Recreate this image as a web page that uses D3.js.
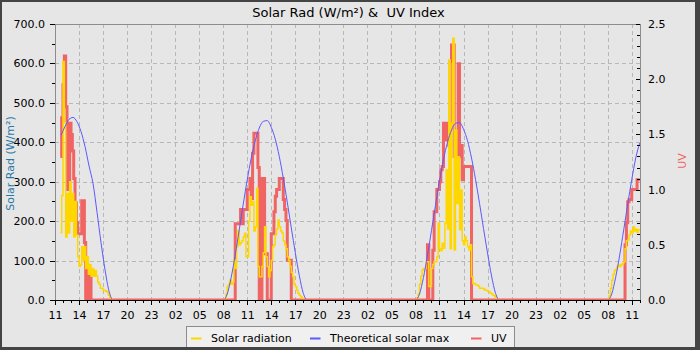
<!DOCTYPE html>
<html>
<head>
<meta charset="utf-8">
<script src="https://cdn.jsdelivr.net/npm/d3@7"></script>
<style>
  html, body { margin: 0; padding: 0; background: #e6e6e6; }
  svg { display: block; }
  text { font-family: "DejaVu Sans", sans-serif; }
</style>
</head>
<body>
<svg id="chart" width="700" height="350"></svg>
<script>
// ---- axis ticks -------------------------------------------------------
const xTickLabels = ["11","14","17","20","23","02","05","08","11","14","17","20","23",
                     "02","05","08","11","14","17","20","23","02","05","08","11"];
const radTicks = [0, 100, 200, 300, 400, 500, 600, 700];
const uvTicks = [0, 0.5, 1.0, 1.5, 2.0, 2.5];

// ---- solar radiation (W/m²), 10-minute readings ------------------------
const radiationDay1 = [171, 265, 605, 450, 160, 270, 170, 300, 200, 270, 160, 250, 165, 110,
  85, 90, 135, 100, 135, 80, 110, 65, 90, 60, 80, 60, 75, 60, 45, 40, 30, 30, 25, 25, 22, 20,
  12, 6, 2, 0];
const radiationDay2 = [0, 3, 15, 34, 40, 50, 40, 45, 101, 80, 135, 177, 140, 145, 150, 160,
  169, 110, 110, 200, 262, 240, 250, 175, 186, 283, 85, 59, 59, 85, 120, 186, 110, 85, 59,
  75, 100, 135, 140, 165, 180, 203, 186, 175, 170, 150, 140, 130, 110, 100, 85, 70, 59, 40,
  34, 25, 17, 12, 8, 4, 2, 0];
const radiationDay3 = [0, 5, 15, 40, 60, 76, 80, 80, 97, 97, 34, 34, 80, 90, 97, 97, 110,
  195, 130, 125, 144, 131, 195, 330, 180, 609, 130, 448, 664, 127, 431, 245, 363, 178, 279,
  150, 140, 160, 150, 135, 127, 140, 59, 42, 42, 38, 38, 35, 30, 30, 30, 28, 25, 25, 22, 20,
  18, 15, 12, 10, 6, 3, 0];
const radiationDay4 = [0, 10, 30, 50, 65, 75, 78, 85, 88, 85, 90, 92, 97, 130, 150, 152, 165,
  175, 170, 186, 175, 180, 172, 178, 180];

// ---- theoretical solar max (W/m²), 30-minute readings -----------------
const solarMaxDay1 = [418, 440, 458, 463, 452, 427, 389, 340, 295, 222, 145, 76, 22, 0];
const solarMaxDay2 = [0, 15, 58, 114, 178, 243, 305, 360, 404, 436, 453, 455, 438, 408, 364,
  309, 248, 183, 120, 62, 17, 0];
const solarMaxDay3 = [0, 15, 57, 113, 176, 240, 302, 356, 400, 431, 448, 450, 433, 404, 360,
  306, 245, 181, 119, 61, 17, 0];
const solarMaxDay4 = [0, 15, 58, 114, 178, 243, 305, 360, 398];

// ---- UV index, 10-minute readings -------------------------------------
const uvDay1 = [1.30, 1.65, 1.95, 2.21, 1.75, 1.00, 1.00, 1.60, 1.50, 1.35, 1.10, 0.88, 0.70,
  0.60, 0.60, 0.60, 0.90, 0.90, 0.52, 0.00, 0.27, 0.00, 0.27, 0.00, 0.00];
const uvDay2 = [0, 0, 0, 0, 0, 0, 0, 0, 0, 0.69, 0.69, 0.69, 0.69, 0.82, 0.69, 0.82, 0.82,
  0.82, 1.00, 1.00, 1.10, 0.92, 1.33, 1.51, 1.51, 1.51, 1.20, 0, 0, 1.10, 1.10, 0.42, 0.42,
  0, 0, 0, 0.60, 0.60, 0.80, 0.94, 1.00, 1.00, 1.10, 1.10, 1.10, 0.91, 0.82, 0.72, 0.36,
  0.36, 0.36, 0];
const uvDay3 = [0, 0, 0, 0, 0, 0, 0, 0, 0, 0.50, 0, 0, 0, 0.45, 0.80, 0.80, 1.00, 1.00, 1.07,
  1.18, 1.21, 1.60, 1.60, 1.45, 1.60, 1.40, 2.16, 2.31, 2.31, 1.30, 1.35, 1.30, 2.14, 1.30,
  1.40, 1.09, 1.21, 1.21, 1.21, 1.21, 1.21, 1.21, 0];
const uvDay4 = [0, 0, 0, 0, 0, 0, 0, 0, 0, 0, 0, 0, 0, 0.50, 0.70, 0.89, 0.91, 0.91, 1.00,
  1.00, 1.00, 1.00, 1.09, 1.09, 1.09];

// hours counted from 11:00 on the first day
function toHour(day, hhmm) {
  const [h, m] = hhmm.split(":").map(Number);
  return (day - 1) * 24 + h + m / 60 - 11;
}
function series(segments) {
  const pts = [];
  segments.forEach(([day, start, stepMin, values]) => {
    const t0 = toHour(day, start);
    values.forEach((v, i) => pts.push({ t: t0 + i * stepMin / 60, v }));
  });
  return pts;
}

const radiation = series([[1, "11:40", 10, radiationDay1], [2, "08:00", 10, radiationDay2],
                          [3, "08:00", 10, radiationDay3], [4, "08:00", 10, radiationDay4]]);
const solarMax = series([[1, "11:45", 30, solarMaxDay1], [2, "08:00", 30, solarMaxDay2],
                         [3, "08:00", 30, solarMaxDay3], [4, "08:00", 30, solarMaxDay4]]);
const uv = series([[1, "11:40", 10, uvDay1], [2, "08:00", 10, uvDay2],
                   [3, "08:00", 10, uvDay3], [4, "08:00", 10, uvDay4]]);

// ---- layout -------------------------------------------------------------
const plot = { left: 55, right: 640, top: 24, bottom: 300 };
const tEnd = toHour(4, "12:02");

const x = d3.scaleLinear().domain([0, tEnd]).range([plot.left, plot.right]);
const yRad = d3.scaleLinear().domain([0, 700]).range([plot.bottom, plot.top]);
const yUV = d3.scaleLinear().domain([0, 2.5]).range([plot.bottom, plot.top]);

const svg = d3.select("#chart");
const FONT = "DejaVu Sans, sans-serif";

svg.append("rect").attr("width", 700).attr("height", 350).attr("fill", "#e6e6e6");

// grid
const grid = svg.append("g").attr("stroke", "#b8b8b8").attr("stroke-dasharray", "4,3")
  .attr("stroke-width", 1).attr("shape-rendering", "crispEdges");
const xMajor = d3.range(0, tEnd, 3);
grid.selectAll("line.v").data(xMajor.slice(1)).join("line").attr("class", "v")
  .attr("x1", d => Math.round(x(d)) + 0.5).attr("x2", d => Math.round(x(d)) + 0.5)
  .attr("y1", plot.top).attr("y2", plot.bottom);
grid.selectAll("line.h").data(radTicks.slice(1, -1)).join("line").attr("class", "h")
  .attr("x1", plot.left).attr("x2", plot.right)
  .attr("y1", d => Math.round(yRad(d)) + 0.5).attr("y2", d => Math.round(yRad(d)) + 0.5);

// data lines: UV underneath, radiation curves on top; the radiation curves
// stop just above the baseline so the UV zero line stays visible at night
const defs = svg.append("defs");
defs.append("clipPath").attr("id", "plotClip").append("rect")
  .attr("x", plot.left).attr("y", plot.top - 5)
  .attr("width", plot.right - plot.left).attr("height", plot.bottom - plot.top + 5);
defs.append("clipPath").attr("id", "radClip").append("rect")
  .attr("x", plot.left).attr("y", plot.top - 5)
  .attr("width", plot.right - plot.left).attr("height", plot.bottom - plot.top + 4);

svg.append("path").datum(uv).attr("clip-path", "url(#plotClip)").attr("fill", "none")
  .attr("d", d3.line().curve(d3.curveStepAfter).x(d => x(d.t)).y(d => yUV(d.v)))
  .attr("stroke", "#f06464").attr("stroke-width", 3);
svg.append("path").datum(radiation).attr("clip-path", "url(#radClip)").attr("fill", "none")
  .attr("d", d3.line().curve(d3.curveStepAfter).x(d => x(d.t)).y(d => yRad(d.v)))
  .attr("stroke", "#ffd700").attr("stroke-width", 1.5);
svg.append("path").datum(solarMax).attr("clip-path", "url(#radClip)").attr("fill", "none")
  .attr("d", d3.line().curve(d3.curveMonotoneX).x(d => x(d.t)).y(d => yRad(d.v)))
  .attr("stroke", "#5a5aff").attr("stroke-width", 1);

// frame
svg.append("path")
  .attr("d", `M${plot.left},${plot.top + 0.5}H${plot.right + 0.5}V${plot.bottom}`)
  .attr("fill", "none").attr("stroke", "#8c8c8c").attr("shape-rendering", "crispEdges");

function styleAxis(g, fontSize) {
  g.attr("font-family", FONT).attr("font-size", fontSize);
  g.select(".domain").attr("stroke", "#8c8c8c");
  g.selectAll(".tick line").attr("stroke", "#000");
  g.selectAll(".tick text").attr("fill", "#000");
  g.attr("shape-rendering", "crispEdges");
}

// left axis
svg.append("g").attr("transform", `translate(${plot.left},0)`)
  .call(d3.axisLeft(yRad).tickValues(d3.range(50, 700, 100)).tickFormat("").tickSize(3).tickSizeOuter(0))
  .call(g => { g.select(".domain").remove(); g.selectAll("line").attr("stroke", "#000"); })
  .attr("shape-rendering", "crispEdges");
svg.append("g").attr("transform", `translate(${plot.left},0)`)
  .call(d3.axisLeft(yRad).tickValues(radTicks).tickFormat(d3.format(".1f")).tickSize(5).tickSizeOuter(0).tickPadding(5))
  .call(g => styleAxis(g, 11));

// right axis
svg.append("g").attr("transform", `translate(${plot.right},0)`)
  .call(d3.axisRight(yUV).tickValues(d3.range(1, 25).filter(i => i % 5).map(i => i / 10))
    .tickFormat("").tickSizeInner(-3).tickSizeOuter(0))
  .call(g => { g.select(".domain").remove(); g.selectAll("line").attr("stroke", "#000"); })
  .attr("shape-rendering", "crispEdges");
svg.append("g").attr("transform", `translate(${plot.right},0)`)
  .call(d3.axisRight(yUV).tickValues(uvTicks).tickFormat(d3.format(".1f"))
    .tickSizeInner(-4).tickSizeOuter(0).tickPadding(8))
  .call(g => styleAxis(g, 11));

// bottom axis
svg.append("g").attr("transform", `translate(0,${plot.bottom})`)
  .call(d3.axisBottom(x).tickValues(d3.range(0, tEnd, 1)).tickFormat("").tickSize(3).tickSizeOuter(0))
  .call(g => { g.select(".domain").remove(); g.selectAll("line").attr("stroke", "#000"); })
  .attr("shape-rendering", "crispEdges");
svg.append("g").attr("transform", `translate(0,${plot.bottom})`)
  .call(d3.axisBottom(x).tickValues(xMajor).tickFormat((d, i) => xTickLabels[i])
    .tickSize(5).tickSizeOuter(0).tickPadding(6))
  .call(g => styleAxis(g, 11))
  .call(g => g.select(".domain").attr("stroke", "#000"));

// titles
svg.append("text").attr("x", 348.5).attr("y", 16.5).attr("text-anchor", "middle")
  .attr("font-size", 13).attr("fill", "#000")
  .style("white-space", "pre").text("Solar Rad (W/m²) &  UV Index");
svg.append("text").attr("transform", "translate(13.5,163.5) rotate(-90)")
  .attr("text-anchor", "middle").attr("font-size", 11).attr("fill", "#2878a8")
  .text("Solar Rad (W/m²)");
svg.append("text").attr("transform", "translate(686,161) rotate(-90)")
  .attr("text-anchor", "middle").attr("font-size", 11).attr("fill", "#f06464")
  .text("UV");

// legend
const legendItems = [
  { label: "Solar radiation", color: "#ffd700", x: 191 },
  { label: "Theoretical solar max", color: "#5a5aff", x: 310 },
  { label: "UV", color: "#f06464", x: 471 }
];
const legend = svg.append("g");
legend.append("rect").attr("x", 186.5).attr("y", 326.5).attr("width", 328).attr("height", 24)
  .attr("fill", "#f0f0f0").attr("stroke", "#8c8c8c").attr("shape-rendering", "crispEdges");
const li = legend.selectAll("g.item").data(legendItems).join("g").attr("class", "item");
li.append("line").attr("x1", d => d.x).attr("x2", d => d.x + 10.5)
  .attr("y1", 338.5).attr("y2", 338.5).attr("stroke", d => d.color).attr("stroke-width", 2);
li.append("text").attr("x", d => d.x + 20).attr("y", 341.5).attr("font-size", 11)
  .attr("fill", "#000").text(d => d.label);

// outer border
const border = svg.append("g").attr("fill", "#444444");
border.append("rect").attr("x", 0).attr("y", 0).attr("width", 700).attr("height", 2);
border.append("rect").attr("x", 0).attr("y", 0).attr("width", 2).attr("height", 350);
border.append("rect").attr("x", 695).attr("y", 0).attr("width", 5).attr("height", 350);
border.append("rect").attr("x", 0).attr("y", 347).attr("width", 700).attr("height", 3);
</script>
</body>
</html>
